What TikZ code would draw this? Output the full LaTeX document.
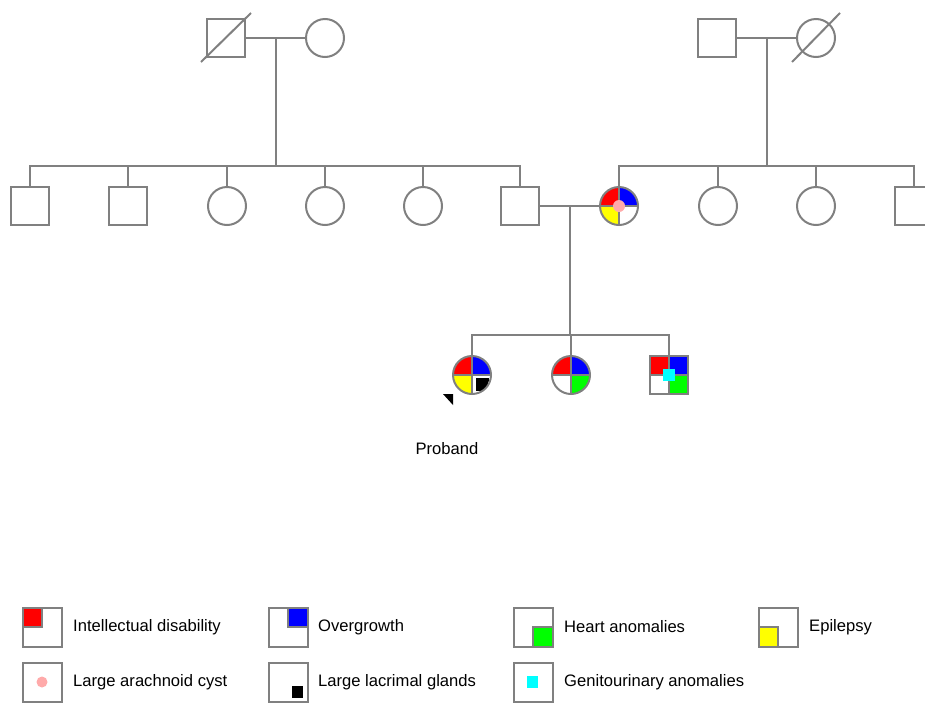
\documentclass[tikz,border=0pt]{standalone}
\usepackage{fontspec}
\setmainfont{Liberation Sans}
\usetikzlibrary{calc}
\definecolor{lg}{RGB}{128,128,128}
\definecolor{cred}{RGB}{255,0,0}
\definecolor{cblue}{RGB}{0,0,255}
\definecolor{cgreen}{RGB}{0,255,0}
\definecolor{cyellow}{RGB}{255,255,0}
\definecolor{cpink}{RGB}{255,170,170}
\definecolor{ccyan}{RGB}{0,255,255}
\tikzset{
  pl/.style={draw=lg, line width=2pt},
  male/.style={rectangle, pl, fill=white, minimum size=38pt, inner sep=0pt},
  female/.style={circle, pl, fill=white, minimum size=38pt, inner sep=0pt},
  quads/.style n args={4}{path picture={
    \fill[#1] (path picture bounding box.center) rectangle (path picture bounding box.north west);
    \fill[#2] (path picture bounding box.center) rectangle (path picture bounding box.north east);
    \fill[#3] (path picture bounding box.center) rectangle (path picture bounding box.south west);
    \fill[#4] (path picture bounding box.center) rectangle (path picture bounding box.south east);
    \draw[lg, line width=2pt] (path picture bounding box.north) -- (path picture bounding box.south);
    \draw[lg, line width=2pt] (path picture bounding box.west) -- (path picture bounding box.east);
  }},
  lbox/.style={rectangle, pl, fill=white, minimum size=39pt, inner sep=0pt, outer sep=0pt},
  lmark/.style={draw=lg, line width=2pt},
  ltext/.style={anchor=west, inner sep=0pt, font=\fontsize{16.6}{19}\selectfont, text=black}
}
\begin{document}
\begin{tikzpicture}[x=1pt,y=-1pt]
\clip (0,0) rectangle (925,702);
\useasboundingbox (0,0) rectangle (925,702);

% generation I
\node[male] (gf1) at (226,38) {};
\node[female] (gm1) at (325,38) {};
\node[male] (gf2) at (717,38) {};
\node[female] (gm2) at (816,38) {};
\draw[pl] ($(gf1.center)+(-25,24)$) -- ($(gf1.center)+(25,-25)$);
\draw[pl] ($(gm2.center)+(-24,24)$) -- ($(gm2.center)+(24,-25)$);

% generation II
\node[male] (a1) at (30,206) {};
\node[male] (a2) at (128,206) {};
\node[female] (a3) at (227,206) {};
\node[female] (a4) at (325,206) {};
\node[female] (a5) at (423,206) {};
\node[male] (fa) at (520,206) {};
\node[female, quads={cred}{cblue}{cyellow}{white}] (mo) at (619,206) {};
\node[female] (b2) at (718,206) {};
\node[female] (b3) at (816,206) {};
\node[male] (b4) at (914,206) {};
\fill[cpink] (mo.center) circle[radius=6pt];

% generation III
\node[female, quads={cred}{cblue}{cyellow}{white}] (pr) at (472,375) {};
\node[female, quads={cred}{cblue}{white}{cgreen}] (c2) at (571,375) {};
\node[male, quads={cred}{cblue}{white}{cgreen}] (c3) at (669,375) {};
\begin{scope}
  \clip (pr.center) circle[radius=18pt];
  \fill[black] ($(pr.center)+(4,3)$) rectangle ($(pr.center)+(17,16)$);
\end{scope}
\fill[ccyan] ($(c3.center)+(-6,-6)$) rectangle ($(c3.center)+(6,6)$);

% connectors
\coordinate (bar1) at (0,166);
\coordinate (bar3) at (0,335);
\draw[pl] (gf1.east) -- (gm1.west);
\coordinate (m1) at ($(gf1.east)!0.5!(gm1.west)$);
\draw[pl] (m1) -- (m1 |- bar1);
\draw[pl] (a1.north) -- (a1 |- bar1) -- (fa |- bar1) -- (fa.north);
\foreach \n in {a2,a3,a4,a5} \draw[pl] (\n.north) -- (\n |- bar1);

\draw[pl] (gf2.east) -- (gm2.west);
\coordinate (m2) at ($(gf2.east)!0.5!(gm2.west)$);
\draw[pl] (m2) -- (m2 |- bar1);
\draw[pl] (mo.north) -- (mo |- bar1) -- (b4 |- bar1) -- (b4.north);
\foreach \n in {b2,b3} \draw[pl] (\n.north) -- (\n |- bar1);

\draw[pl] (fa.east) -- (mo.west);
\coordinate (m3) at ($(fa.east)!0.5!(mo.west)$);
\draw[pl] (m3) -- (m3 |- bar3);
\draw[pl] (pr.north) -- (pr |- bar3) -- (c3 |- bar3) -- (c3.north);
\draw[pl] (c2.north) -- (c2 |- bar3);

% proband
\coordinate (pa) at (443,394);
\fill[black] (pa) -- ++(10,0) -- ++(0,11) -- cycle;
\node[font=\fontsize{16.6}{19}\selectfont] (pt) at (447,449) {Proband};

% legend
\node[lbox] (l1) at (42,627) {};
\draw[lmark, fill=cred] (l1.north west) rectangle (l1.center);
\node[ltext] (t1) at (73,627) {Intellectual disability};
\node[lbox] (l2) at (288,627) {};
\draw[lmark, fill=cblue] (l2.north east) rectangle (l2.center);
\node[ltext] (t2) at (318,627) {Overgrowth};
\node[lbox] (l3) at (533,627) {};
\draw[lmark, fill=cgreen] (l3.south east) rectangle (l3.center);
\node[ltext] (t3) at (564,627) {Heart anomalies};
\node[lbox] (l4) at (778,627) {};
\draw[lmark, fill=cyellow] (l4.south west) rectangle (l4.center);
\node[ltext] (t4) at (809,627) {Epilepsy};

\node[lbox] (l5) at (42,682) {};
\fill[cpink] (l5.center) circle[radius=5.5pt];
\node[ltext] (t5) at (73,682) {Large arachnoid cyst};
\node[lbox] (l6) at (288,682) {};
\fill[black] ($(l6.center)+(4,4)$) rectangle ($(l6.center)+(15,16)$);
\node[ltext] (t6) at (318,682) {Large lacrimal glands};
\node[lbox] (l7) at (533,682) {};
\fill[ccyan] ($(l7.center)+(-6,-6)$) rectangle ($(l7.center)+(5,6)$);
\node[ltext] (t7) at (564,682) {Genitourinary anomalies};
\end{tikzpicture}
\end{document}
